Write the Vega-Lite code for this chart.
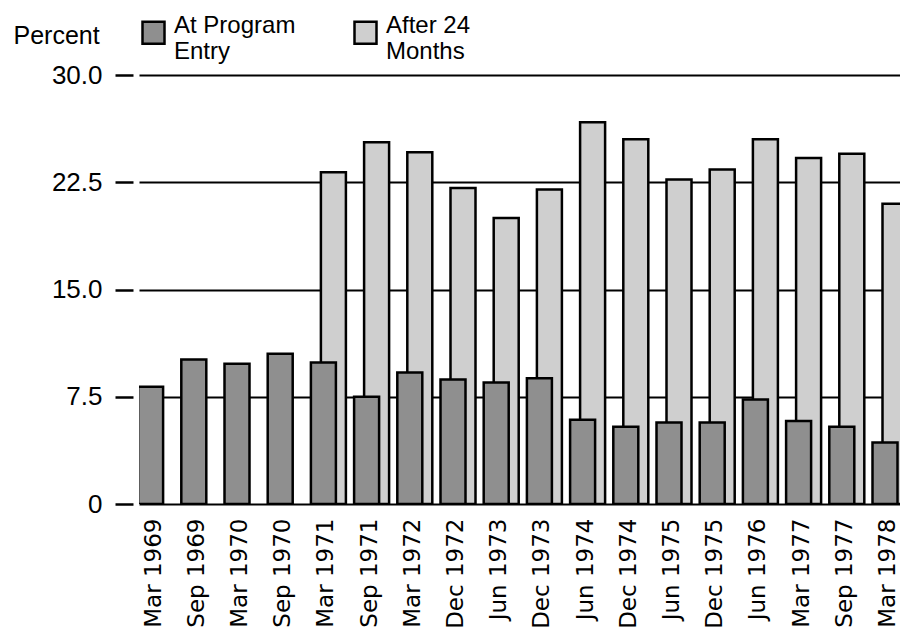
{
  "$schema": "https://vega.github.io/schema/vega-lite/v6.json",
  "autosize": {"type": "none"},
  "padding": {"left": 139, "top": 75, "right": 0, "bottom": 138},
  "width": 761,
  "height": 429,
  "background": "white",
  "config": {"view": {"stroke": null}, "font": "Liberation Sans"},
  "data": {
    "values": [
      {"date": "Mar 1969", "series": "At Program Entry", "value": 8.2},
      {"date": "Sep 1969", "series": "At Program Entry", "value": 10.1},
      {"date": "Mar 1970", "series": "At Program Entry", "value": 9.8},
      {"date": "Sep 1970", "series": "At Program Entry", "value": 10.5},
      {"date": "Mar 1971", "series": "At Program Entry", "value": 9.9},
      {"date": "Sep 1971", "series": "At Program Entry", "value": 7.5},
      {"date": "Mar 1972", "series": "At Program Entry", "value": 9.2},
      {"date": "Dec 1972", "series": "At Program Entry", "value": 8.7},
      {"date": "Jun 1973", "series": "At Program Entry", "value": 8.5},
      {"date": "Dec 1973", "series": "At Program Entry", "value": 8.8},
      {"date": "Jun 1974", "series": "At Program Entry", "value": 5.9},
      {"date": "Dec 1974", "series": "At Program Entry", "value": 5.4},
      {"date": "Jun 1975", "series": "At Program Entry", "value": 5.7},
      {"date": "Dec 1975", "series": "At Program Entry", "value": 5.7},
      {"date": "Jun 1976", "series": "At Program Entry", "value": 7.3},
      {"date": "Mar 1977", "series": "At Program Entry", "value": 5.8},
      {"date": "Sep 1977", "series": "At Program Entry", "value": 5.4},
      {"date": "Mar 1978", "series": "At Program Entry", "value": 4.3},
      {"date": "Mar 1971", "series": "After 24 Months", "value": 23.2},
      {"date": "Sep 1971", "series": "After 24 Months", "value": 25.3},
      {"date": "Mar 1972", "series": "After 24 Months", "value": 24.6},
      {"date": "Dec 1972", "series": "After 24 Months", "value": 22.1},
      {"date": "Jun 1973", "series": "After 24 Months", "value": 20.0},
      {"date": "Dec 1973", "series": "After 24 Months", "value": 22.0},
      {"date": "Jun 1974", "series": "After 24 Months", "value": 26.7},
      {"date": "Dec 1974", "series": "After 24 Months", "value": 25.5},
      {"date": "Jun 1975", "series": "After 24 Months", "value": 22.7},
      {"date": "Dec 1975", "series": "After 24 Months", "value": 23.4},
      {"date": "Jun 1976", "series": "After 24 Months", "value": 25.5},
      {"date": "Mar 1977", "series": "After 24 Months", "value": 24.2},
      {"date": "Sep 1977", "series": "After 24 Months", "value": 24.5},
      {"date": "Mar 1978", "series": "After 24 Months", "value": 21.0}
    ]
  },
  "encoding": {
    "x": {
      "field": "date",
      "type": "nominal",
      "scale": {
        "domain": ["Mar 1969", "Sep 1969", "Mar 1970", "Sep 1970", "Mar 1971", "Sep 1971", "Mar 1972", "Dec 1972", "Jun 1973", "Dec 1973", "Jun 1974", "Dec 1974", "Jun 1975", "Dec 1975", "Jun 1976", "Mar 1977", "Sep 1977", "Mar 1978"],
        "paddingInner": 0,
        "paddingOuter": 0,
        "range": [0, 777.6]
      },
      "axis": {
        "title": null,
        "labelAngle": -90,
        "ticks": false,
        "domain": false,
        "grid": false,
        "labelPadding": 14,
        "labelOffset": -7,
        "labelFont": "DejaVu Sans",
        "labelFontSize": 23,
        "labelColor": "black",
        "labelLimit": 0
      }
    },
    "y": {
      "field": "value",
      "type": "quantitative",
      "scale": {"domain": [0, 30]},
      "axis": {
        "values": [0, 7.5, 15, 22.5, 30],
        "labelExpr": "datum.value == 0 ? '0' : format(datum.value, '.1f')",
        "title": "Percent",
        "titleAngle": 0,
        "titleAlign": "left",
        "titleBaseline": "alphabetic",
        "titleX": -120,
        "titleY": -32,
        "titleFont": "Liberation Sans",
        "titleFontSize": 25,
        "titleFontWeight": "normal",
        "titleColor": "black",
        "offset": 6,
        "domain": false,
        "tickSize": 18,
        "tickWidth": 2.5,
        "tickColor": "black",
        "labelPadding": 13,
        "labelFont": "Liberation Sans",
        "labelFontSize": 26,
        "labelColor": "black",
        "grid": true,
        "gridColor": "black",
        "gridWidth": 2,
        "gridOpacity": 1
      }
    },
    "fill": {
      "field": "series",
      "type": "nominal",
      "scale": {
        "domain": ["At Program Entry", "After 24 Months"],
        "range": ["#8f8f8f", "#cfcfcf"]
      },
      "legend": {
        "orient": "none",
        "legendX": 2,
        "legendY": -55,
        "direction": "horizontal",
        "title": null,
        "padding": 0,
        "symbolType": "square",
        "symbolSize": 484,
        "symbolStrokeColor": "black",
        "symbolStrokeWidth": 2.5,
        "labelFont": "Liberation Sans",
        "labelFontSize": 24,
        "labelBaseline": "alphabetic",
        "labelColor": "black",
        "labelOffset": 8,
        "labelLimit": 0,
        "columnPadding": 53,
        "labelExpr": "datum.label == 'At Program Entry' ? ['At Program', 'Entry'] : ['After 24', 'Months']"
      }
    }
  },
  "layer": [
    {
      "transform": [{"filter": "datum.series == 'After 24 Months'"}],
      "mark": {"type": "bar", "width": 25, "xOffset": 0, "stroke": "black", "strokeWidth": 2.5, "clip": true}
    },
    {
      "transform": [{"filter": "datum.series == 'At Program Entry'"}],
      "mark": {"type": "bar", "width": 25, "xOffset": -10, "stroke": "black", "strokeWidth": 2.5, "clip": true}
    }
  ]
}
